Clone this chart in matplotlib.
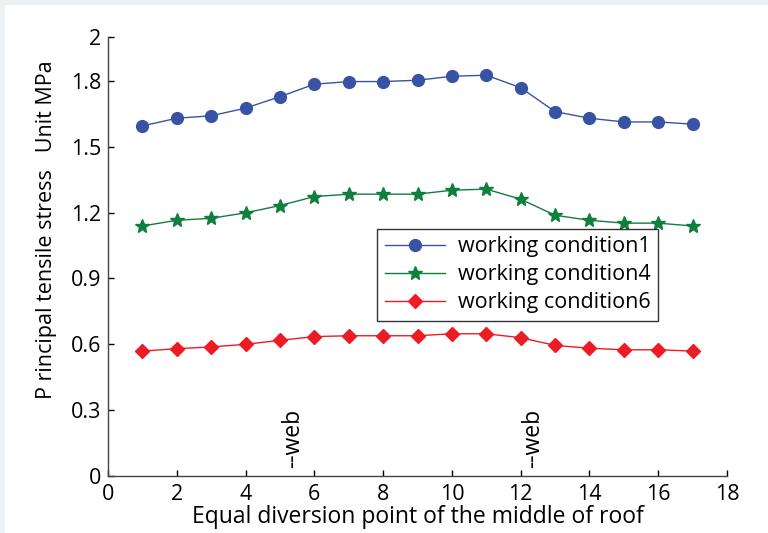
import matplotlib
matplotlib.use("Agg")
import matplotlib.pyplot as plt
from matplotlib.patches import Rectangle

x_points = list(range(1, 18))
cond1 = [1.595, 1.630, 1.641, 1.676, 1.728, 1.785, 1.797, 1.797, 1.803, 1.821, 1.826,
         1.769, 1.660, 1.630, 1.613, 1.613, 1.603]
cond4 = [1.139, 1.165, 1.174, 1.199, 1.232, 1.273, 1.284, 1.284, 1.284, 1.302, 1.307,
         1.261, 1.188, 1.165, 1.152, 1.152, 1.139]
cond6 = [0.569, 0.580, 0.588, 0.600, 0.618, 0.635, 0.639, 0.639, 0.639, 0.648, 0.648,
         0.630, 0.595, 0.582, 0.575, 0.575, 0.569]
labels = ["working condition1", "working condition4", "working condition6"]
xticks = [0, 2, 4, 6, 8, 10, 12, 14, 16, 18]
yticks = [0, 0.3, 0.6, 0.9, 1.2, 1.5, 1.8, 2]
ytick_labels = ["0", "0.3", "0.6", "0.9", "1.2", "1.5", "1.8", "2"]
web_x = [5.38, 12.35]

plt.rcParams['font.family'] = ['Open Sans', 'DejaVu Sans']

fig = plt.figure(figsize=(7.68, 5.33), dpi=100)
fig.patch.set_facecolor('#eef1f4')
fig.patches.append(Rectangle((5 / 768, 0), 1, 1 - 5 / 533, transform=fig.transFigure,
                             facecolor='white', edgecolor='none', zorder=-1))

ax = fig.add_axes([108 / 768, 1 - 476 / 533, 619 / 768, 439 / 533])
ax.set_facecolor('white')

ax.plot(x_points, cond1, color='#3953a4', marker='o', markersize=8.5, lw=1.0, label=labels[0])
ax.plot(x_points, cond4, color='#0f7f3d', marker='*', markersize=10, lw=1.0, label=labels[1])
ax.plot(x_points, cond6, color='#ec1c24', marker='D', markersize=7.5, lw=1.0, label=labels[2])

ax.set_xlim(0, 18)
ax.set_ylim(0, 2)
ax.set_xticks(xticks)
ax.set_yticks(yticks)
ax.set_yticklabels(ytick_labels)
ax.spines['top'].set_visible(False)
ax.spines['right'].set_visible(False)
for s in ['left', 'bottom']:
    ax.spines[s].set_color('#444444')
    ax.spines[s].set_linewidth(1.0)
ax.tick_params(direction='in', length=4, width=1, labelsize=15.5, colors='black')
ax.tick_params(axis='x', pad=6)
ax.tick_params(axis='y', pad=5)

for wx in web_x:
    ax.text(wx, 0.035, "--web", rotation=90, ha='center', va='bottom', fontsize=16.5)

ax.set_xlabel("Equal diversion point of the middle of roof", fontsize=16.5, labelpad=0)
ax.set_ylabel("P rincipal tensile stress   Unit MPa", fontsize=15.5)
ax.yaxis.set_label_coords(-0.082, 0.56)

leg = ax.legend(loc='upper left', bbox_to_anchor=(0.435, 0.563), fontsize=15.5,
                frameon=True, fancybox=False, edgecolor='black', borderaxespad=0,
                handlelength=2.8, labelspacing=0.32, borderpad=0.35, handletextpad=0.6)
leg.get_frame().set_linewidth(1.0)

fig.savefig("out.png", dpi=100)
